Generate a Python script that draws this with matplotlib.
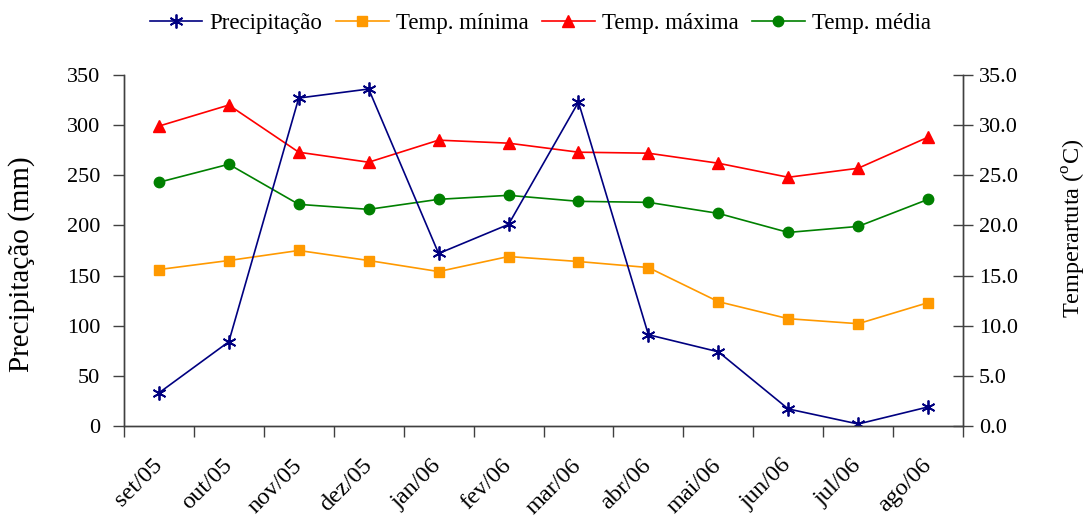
import matplotlib
matplotlib.use('Agg')
import matplotlib.pyplot as plt
import matplotlib.transforms as mtransforms
import numpy as np

plt.rcParams['font.family'] = ['Liberation Serif', 'DejaVu Serif']
plt.rcParams['mathtext.fontset'] = 'custom'
plt.rcParams['mathtext.rm'] = 'Liberation Serif'

# data
months = ['set/05', 'out/05', 'nov/05', 'dez/05', 'jan/06', 'fev/06',
          'mar/06', 'abr/06', 'mai/06', 'jun/06', 'jul/06', 'ago/06']
precip = [33, 84, 327, 336, 172, 201, 323, 91, 74, 17, 2, 19]
temp_min = [15.6, 16.5, 17.5, 16.5, 15.4, 16.9, 16.4, 15.8, 12.4, 10.7, 10.2, 12.3]
temp_max = [29.9, 32.0, 27.3, 26.3, 28.5, 28.2, 27.3, 27.2, 26.2, 24.8, 25.7, 28.8]
temp_med = [24.3, 26.1, 22.1, 21.6, 22.6, 23.0, 22.4, 22.3, 21.2, 19.3, 19.9, 22.6]

x = np.arange(1, len(months) + 1)

fig = plt.figure(figsize=(10.87, 5.17), dpi=100)
ax = fig.add_axes([0.114, 0.176, 0.772, 0.679])
ax2 = ax.twinx()

lw = 1.2
l_min, = ax2.plot(x, temp_min, color='#FF9900', lw=lw, marker='s', ms=7, label='Temp. mínima')
l_max, = ax2.plot(x, temp_max, color='#FF0000', lw=lw, marker='^', ms=8.5, label='Temp. máxima')
l_med, = ax2.plot(x, temp_med, color='#008000', lw=lw, marker='o', ms=7.5, label='Temp. média')

# precipitation on the left axis, drawn on top
l_prec, = ax.plot(x, precip, color='#000080', lw=lw, marker=(6, 2, 0), ms=10,
                  mew=1.3, label='Precipitação')
ax.set_zorder(ax2.get_zorder() + 1)
ax.patch.set_visible(False)

ax.set_xlim(0.5, 12.5)
ax.set_ylim(0, 350)
ax2.set_ylim(0, 35)
ax.set_yticks(np.arange(0, 351, 50))
ax2.set_yticks(np.arange(0, 35.1, 5))
ax2.set_yticklabels(['%.1f' % v for v in np.arange(0, 35.1, 5)])

ax.set_xticks(np.arange(0.5, 12.6, 1))
ax.set_xticklabels([])
ax.set_xticks(x, minor=True)
ax.set_xticklabels(months, minor=True, rotation=45, ha='right', va='center',
                   rotation_mode='anchor')
shift = mtransforms.ScaledTranslation(-12 / 100, 0, fig.dpi_scale_trans)
for lbl in ax.get_xticklabels(minor=True):
    lbl.set_transform(lbl.get_transform() + shift)
ax.tick_params(axis='x', which='minor', length=0, pad=26, labelsize=17.5)
ax.tick_params(axis='x', which='major', direction='out', length=8, width=1, color='#404040')
ax.tick_params(axis='y', direction='out', length=8, width=1, pad=9, labelsize=16, color='#404040')
ax2.tick_params(axis='y', direction='inout', length=15, width=1, pad=4, labelsize=16, color='#404040')

for a in (ax, ax2):
    a.spines['top'].set_visible(False)
    for s in ('left', 'right', 'bottom'):
        a.spines[s].set_color('#404040')
        a.spines[s].set_linewidth(1)

ax.set_ylabel('Precipitação (mm)', fontsize=21)
ax.yaxis.set_label_coords(-0.106, 0.46)
ax2.set_ylabel(r'Temperartuta ($^{\mathrm{o}}$C)', fontsize=17.5)
ax2.yaxis.set_label_coords(1.117, 0.564)

handles = [l_prec, l_min, l_max, l_med]
fig.legend(handles, [h.get_label() for h in handles], loc='upper center',
           bbox_to_anchor=(0.497, 1.015), ncol=4, frameon=False, fontsize=16.5,
           handlelength=2.3, columnspacing=0.6, handletextpad=0.3)

fig.savefig('out.png', dpi=100)
